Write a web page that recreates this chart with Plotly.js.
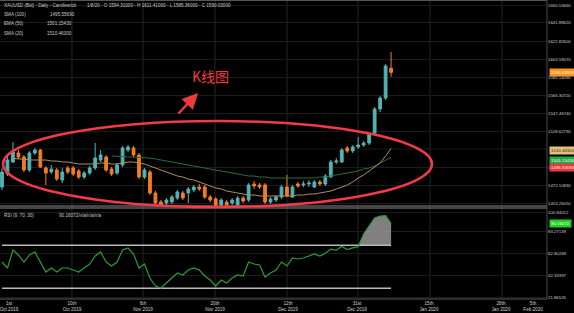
<!DOCTYPE html>
<html>
<head>
<meta charset="utf-8">
<script src="https://cdn.plot.ly/plotly-3.0.1.min.js"></script>
<style>
  html, body { margin: 0; padding: 0; background: #000; }
  #chart { width: 574px; height: 313px; }
</style>
</head>
<body>
<div id="chart"></div>
<script>
// XAUUSD daily candles, oldest first (bar number on the x axis)
const openP  = [1470.01,1483.62,1496.18,1505.61,1501.42,1487.81,1505.61,1508.75,1489.90,1485.71,
                1487.81,1477.34,1489.90,1489.90,1486.76,1480.48,1484.67,1489.90,1498.28,1501.42,
                1488.85,1484.67,1493.04,1508.75,1510.84,1503.51,1480.48,1485.71,1463.73,1454.31,
                1453.26,1454.31,1458.49,1463.73,1463.73,1466.87,1470.01,1470.01,1459.54,1457.45,
                1451.17,1454.31,1453.26,1451.17,1458.49,1456.40,1473.15,1472.10,1472.10,1454.31,
                1456.40,1459.54,1470.01,1459.54,1473.15,1472.10,1473.15,1470.01,1475.24,1473.15,
                1480.48,1496.18,1496.18,1510.84,1507.70,1511.89,1513.98,1516.07,1526.54,1551.67,
                1563.18,1594.31];
const highP  = [1489.90,1502.46,1517.12,1508.75,1503.51,1507.70,1510.84,1509.79,1492.00,1493.04,
                1489.90,1489.90,1492.00,1492.00,1488.85,1486.76,1492.00,1516.07,1508.75,1503.51,
                1490.95,1495.14,1512.93,1513.98,1512.93,1505.61,1489.90,1487.81,1465.82,1456.40,
                1458.49,1461.64,1466.87,1465.82,1470.01,1472.10,1473.15,1472.10,1461.64,1459.54,
                1458.49,1456.40,1458.49,1460.59,1460.59,1474.20,1476.29,1474.20,1474.20,1459.54,
                1461.64,1472.10,1482.57,1472.10,1475.24,1476.29,1477.34,1477.34,1477.34,1483.62,
                1498.28,1500.37,1510.84,1512.93,1513.98,1522.36,1518.17,1526.54,1553.76,1565.28,
                1598.78,1611.41];
const lowP   = [1466.87,1481.53,1495.14,1499.32,1485.71,1485.71,1503.51,1489.90,1472.10,1483.62,
                1476.29,1474.20,1483.62,1481.53,1478.39,1478.39,1482.57,1487.81,1496.18,1485.71,
                1481.53,1482.57,1490.95,1506.65,1501.42,1478.39,1478.39,1461.64,1452.21,1450.12,
                1451.17,1452.21,1456.40,1456.40,1453.26,1464.78,1465.82,1457.45,1454.31,1450.12,
                1450.12,1450.12,1451.17,1450.12,1453.26,1454.31,1467.92,1467.92,1452.21,1452.21,
                1454.31,1457.45,1459.54,1458.49,1468.96,1470.01,1470.01,1468.96,1471.06,1471.06,
                1479.43,1494.09,1495.14,1505.61,1505.61,1509.79,1511.89,1513.98,1524.45,1548.53,
                1561.09,1585.36];
const closeP = [1485.71,1498.28,1506.65,1501.42,1487.81,1505.61,1508.75,1490.95,1484.67,1488.85,
                1478.39,1485.71,1485.71,1483.62,1480.48,1484.67,1489.90,1500.37,1503.51,1487.81,
                1483.62,1493.04,1510.84,1511.89,1503.51,1480.48,1487.81,1463.73,1453.26,1451.17,
                1456.40,1459.54,1464.78,1458.49,1467.92,1470.01,1467.92,1459.54,1456.40,1451.17,
                1456.40,1451.17,1456.40,1458.49,1455.35,1472.10,1471.06,1470.01,1454.31,1457.45,
                1459.54,1470.01,1460.59,1470.01,1471.06,1473.15,1474.20,1475.24,1473.15,1481.53,
                1496.18,1497.23,1508.75,1507.70,1511.89,1513.98,1516.07,1525.50,1551.67,1563.18,
                1596.69,1590.03];

// Moving averages
const sma20 = [null,null,1500.37,1499.32,1499.32,1498.28,1498.28,1498.28,1498.28,1497.23,
               1497.23,1496.18,1496.18,1495.14,1494.09,1494.09,1494.09,1494.09,1495.14,1495.14,
               1494.09,1494.09,1495.14,1496.18,1496.18,1495.14,1494.09,1492.00,1489.90,1487.81,
               1485.71,1483.62,1481.53,1480.48,1478.39,1477.34,1475.24,1473.15,1471.06,1468.96,
               1467.92,1465.82,1464.78,1463.73,1462.68,1461.64,1461.64,1460.59,1460.59,1460.59,
               1460.59,1460.59,1460.59,1460.59,1461.64,1461.64,1462.68,1462.68,1463.73,1464.78,
               1465.82,1467.92,1470.01,1472.10,1475.24,1479.43,1482.57,1486.76,1490.95,1495.14,
               1502.50,1510.46];
const ema50 = [null,null,null,null,null,null,null,null,null,null,
               null,null,null,null,null,null,null,null,null,null,
               1502.46,1502.20,1501.90,1501.70,1501.50,1501.42,1501.42,1500.37,1499.32,1498.28,
               1497.23,1496.18,1495.14,1494.09,1493.04,1492.00,1490.95,1489.90,1488.85,1487.81,
               1486.76,1485.71,1484.67,1483.62,1482.57,1481.53,1481.53,1480.48,1480.48,1479.43,
               1479.43,1479.43,1479.43,1479.43,1479.43,1479.43,1479.43,1479.43,1480.48,1480.48,
               1481.53,1482.57,1483.62,1484.67,1485.71,1486.76,1488.85,1489.90,1492.00,1495.14,
               1498.28,1501.15];
const sma100Last = 1495.5569;

// RSI (9)
const rsi9 = [54.43,48.85,65.59,60.94,54.43,60.94,63.73,54.43,45.13,48.85,
              45.13,48.85,48.85,46.99,45.13,48.85,52.57,60.01,63.73,54.43,
              50.71,54.43,65.59,67.45,61.87,48.85,52.57,39.55,32.10,30.24,
              34.89,39.55,44.20,42.34,46.99,48.85,46.99,41.41,37.69,32.10,
              37.69,34.89,39.55,42.34,41.41,54.43,52.57,51.64,40.48,44.20,
              46.99,54.43,50.71,58.15,57.22,58.15,60.01,61.87,60.01,62.50,
              66.50,65.60,68.80,66.00,67.50,68.60,80.50,88.00,95.40,97.20,
              97.50,90.16];
const rsiLevels = [70, 30];

// Axis ticks
const dateTickPos  = [1.28, 12.77, 25.73, 38.87, 52.19, 64.78, 77.92, 91.06, 96.90];
const dateTickText = ['1st<br>Oct 2019','10th<br>Oct 2019','6th<br>Nov 2019','20th<br>Nov 2019',
                      '12th<br>Dec 2019','31st<br>Dec 2019','15th<br>Jan 2020','28th<br>Jan 2020','5th<br>Feb 2020'];
const dateGridPos  = [12.77, 25.73, 38.87, 52.01, 64.96, 78.10, 91.24];
const priceTicks = [1453.2605, 1472.1083, 1490.9561, 1528.6279, 1547.4674,
                    1566.3072, 1585.1409, 1603.5907, 1622.8260, 1641.8862, 1660.5366];
const priceGrid = [1509.8039];
const rsiTicks = [21.86526, 42.33397, 62.80268, 83.27139, 100.94012];

const bars = openP.map((_, i) => i);

const TEAL = '#52b3b4', ORANGE = '#f27d22';
const priceMarks = [
  {type:'candlestick', x:bars, open:openP, high:highP, low:lowP, close:closeP,
   xaxis:'x', yaxis:'y', whiskerwidth:0, hoverinfo:'skip',
   increasing:{line:{color:TEAL, width:1}, fillcolor:TEAL},
   decreasing:{line:{color:ORANGE, width:1}, fillcolor:ORANGE}},
  {type:'scatter', mode:'lines', x:bars, y:ema50, xaxis:'x', yaxis:'y',
   line:{color:'#2e6b3b', width:1}, hoverinfo:'skip'},
  {type:'scatter', mode:'lines', x:bars, y:sma20, xaxis:'x', yaxis:'y',
   line:{color:'#b28e57', width:1}, hoverinfo:'skip'}
];

// RSI panel: shaded overbought area, 70/30 levels, RSI line
const rsiMarks = [
  {type:'scatter', mode:'lines', x:bars, y:bars.map(() => rsiLevels[0]), xaxis:'x', yaxis:'y2',
   line:{width:0}, hoverinfo:'skip'},
  {type:'scatter', mode:'lines', x:bars, y:rsi9.map(v => Math.max(v, rsiLevels[0])), xaxis:'x', yaxis:'y2',
   line:{width:0}, fill:'tonexty', fillcolor:'rgba(150,150,150,0.85)', hoverinfo:'skip'},
  ...rsiLevels.map(lv => ({type:'scatter', mode:'lines', x:[bars[0], bars[bars.length-1]], y:[lv, lv],
   xaxis:'x', yaxis:'y2', line:{color:'#b9b9b9', width:1.5}, hoverinfo:'skip'})),
  {type:'scatter', mode:'lines', x:bars, y:rsi9, xaxis:'x', yaxis:'y2',
   line:{color:'#2e9a35', width:1.2}, hoverinfo:'skip'}
];

// Pixel helpers for the plot area (547 x 299)
const PW = 547, PH = 299;
const px = v => v / PW;
const py = v => (PH - v) / PH;

const txt = (x, y, text, extra) => Object.assign({xref:'paper', yref:'paper', x:px(x), y:py(y),
  xanchor:'left', yanchor:'middle', showarrow:false, text:text,
  font:{size:4.6, color:'#c9c9c9'}}, extra || {});

const tag = (yref, val, label, bg, fg, shift) => ({xref:'paper', yref:yref, x:1, y:val, xanchor:'left',
  yanchor:'middle', xshift:2, yshift:shift || 0, showarrow:false, text:label, bgcolor:bg, borderpad:1,
  font:{size:4.4, color:fg}});

const annotations = [
  txt(2, 6, 'XAUUSD (Bid) - Daily - Candlestick'),
  txt(85, 6, '1/8/20 - O 1594.31000 - H 1611.41000 - L 1585.36000 - C 1590.03000'),
  txt(2, 15, 'SMA (100)'), txt(48, 15, '1495.55690'),
  txt(2, 24, 'EMA (50)'),  txt(45, 24, '1501.15430'),
  txt(2, 33, 'SMA (20)'),  txt(45, 33, '1510.46300'),
  txt(2, 215, 'RSI (9, 70, 30)'), txt(57, 215, '90.16072/n/a/n/a/n/a'),
  tag('y', closeP[closeP.length-1], '1590.03000', '#f7931e', '#fff4e0'),
  tag('y', sma20[sma20.length-1], '1510.46300', '#e3c07a', '#3a2a10', -2.5),
  tag('y', ema50[ema50.length-1], '1501.15430', '#1fae48', '#e8ffe8', -2.8),
  tag('y', sma100Last, '1495.55690', '#e63a3c', '#ffe8e8', -4.4),
  tag('y2', rsi9[rsi9.length-1], '90.16072', '#22d022', '#eaffea'),
  {xref:'paper', yref:'paper', x:px(210), y:py(76), xanchor:'center', yanchor:'middle', showarrow:false, text:'K线图',
   font:{family:'Noto Sans CJK SC, sans-serif', size:14, color:'#f23a3c'}},
  {xref:'paper', yref:'paper', x:px(198), y:py(93), ax:-21, ay:22, text:'', showarrow:true,
   arrowhead:2, arrowsize:1.3, arrowwidth:2.4, arrowcolor:'#f23a3c'}
];

const shapes = [
  ...dateGridPos.map(g => ({type:'line', xref:'x', yref:'paper', x0:g, x1:g, y0:0, y1:1,
    line:{color:'#262626', width:1}, layer:'below'})),
  ...priceGrid.map(g => ({type:'line', xref:'paper', yref:'y', x0:0, x1:1, y0:g, y1:g,
    line:{color:'#1b1b1b', width:1}, layer:'below'})),
  {type:'line', xref:'paper', yref:'paper', x0:0, x1:1, y0:1, y1:1, line:{color:'#707070', width:1.5}},
  {type:'line', xref:'paper', yref:'paper', x0:0, x1:1, y0:0.311, y1:0.311, line:{color:'#8a8a8a', width:1}},
  {type:'line', xref:'paper', yref:'paper', x0:0, x1:1, y0:0.3043, y1:0.3043, line:{color:'#8a8a8a', width:1}},
  {type:'line', xref:'paper', yref:'paper', x0:0, x1:1, y0:0, y1:0, line:{color:'#5a5a5a', width:1}},
  {type:'line', xref:'paper', yref:'paper', x0:1, x1:1, y0:0, y1:1, line:{color:'#4a4a4a', width:1}},
  {type:'circle', xref:'paper', yref:'paper', x0:px(3), x1:px(432), y0:py(207), y1:py(121),
   line:{color:'#f23a48', width:2.5}}
];

const layout = {
  width:574, height:313,
  paper_bgcolor:'#000', plot_bgcolor:'#000',
  margin:{l:0, r:27, t:0, b:14},
  showlegend:false, hovermode:false,
  font:{family:'Liberation Sans, Arial, sans-serif', color:'#cfcfcf', size:4.5},
  boxgap:0.28,
  xaxis:{range:[-0.365, 99.45], anchor:'y2', tickmode:'array', tickvals:dateTickPos, ticktext:dateTickText,
         showgrid:false, zeroline:false, ticks:'', showline:false, automargin:false,
         ticklabeloverflow:'allow', tickfont:{size:4.6, color:'#d0d0d0'},
         rangeslider:{visible:false}, fixedrange:true},
  yaxis:{domain:[0.311, 1], range:[1450.12, 1665.78], side:'right', anchor:'x',
         tickmode:'array', tickvals:priceTicks, ticktext:priceTicks.map(v => v.toFixed(5)),
         showgrid:true, gridcolor:'#1b1b1b', zeroline:false, ticks:'', showline:false,
         automargin:false, tickfont:{size:4.3, color:'#cfcfcf'}, fixedrange:true},
  yaxis2:{domain:[0, 0.3043], range:[20.01, 104.66], side:'right', anchor:'x',
         tickmode:'array', tickvals:rsiTicks, ticktext:rsiTicks.map(v => v.toFixed(5)),
         showgrid:true, gridcolor:'#1b1b1b', zeroline:false, ticks:'', showline:false,
         automargin:false, tickfont:{size:4.3, color:'#cfcfcf'}, fixedrange:true},
  annotations:annotations,
  shapes:shapes
};

Plotly.newPlot('chart', [...priceMarks, ...rsiMarks], layout, {displayModeBar:false, staticPlot:true});
</script>
</body>
</html>
